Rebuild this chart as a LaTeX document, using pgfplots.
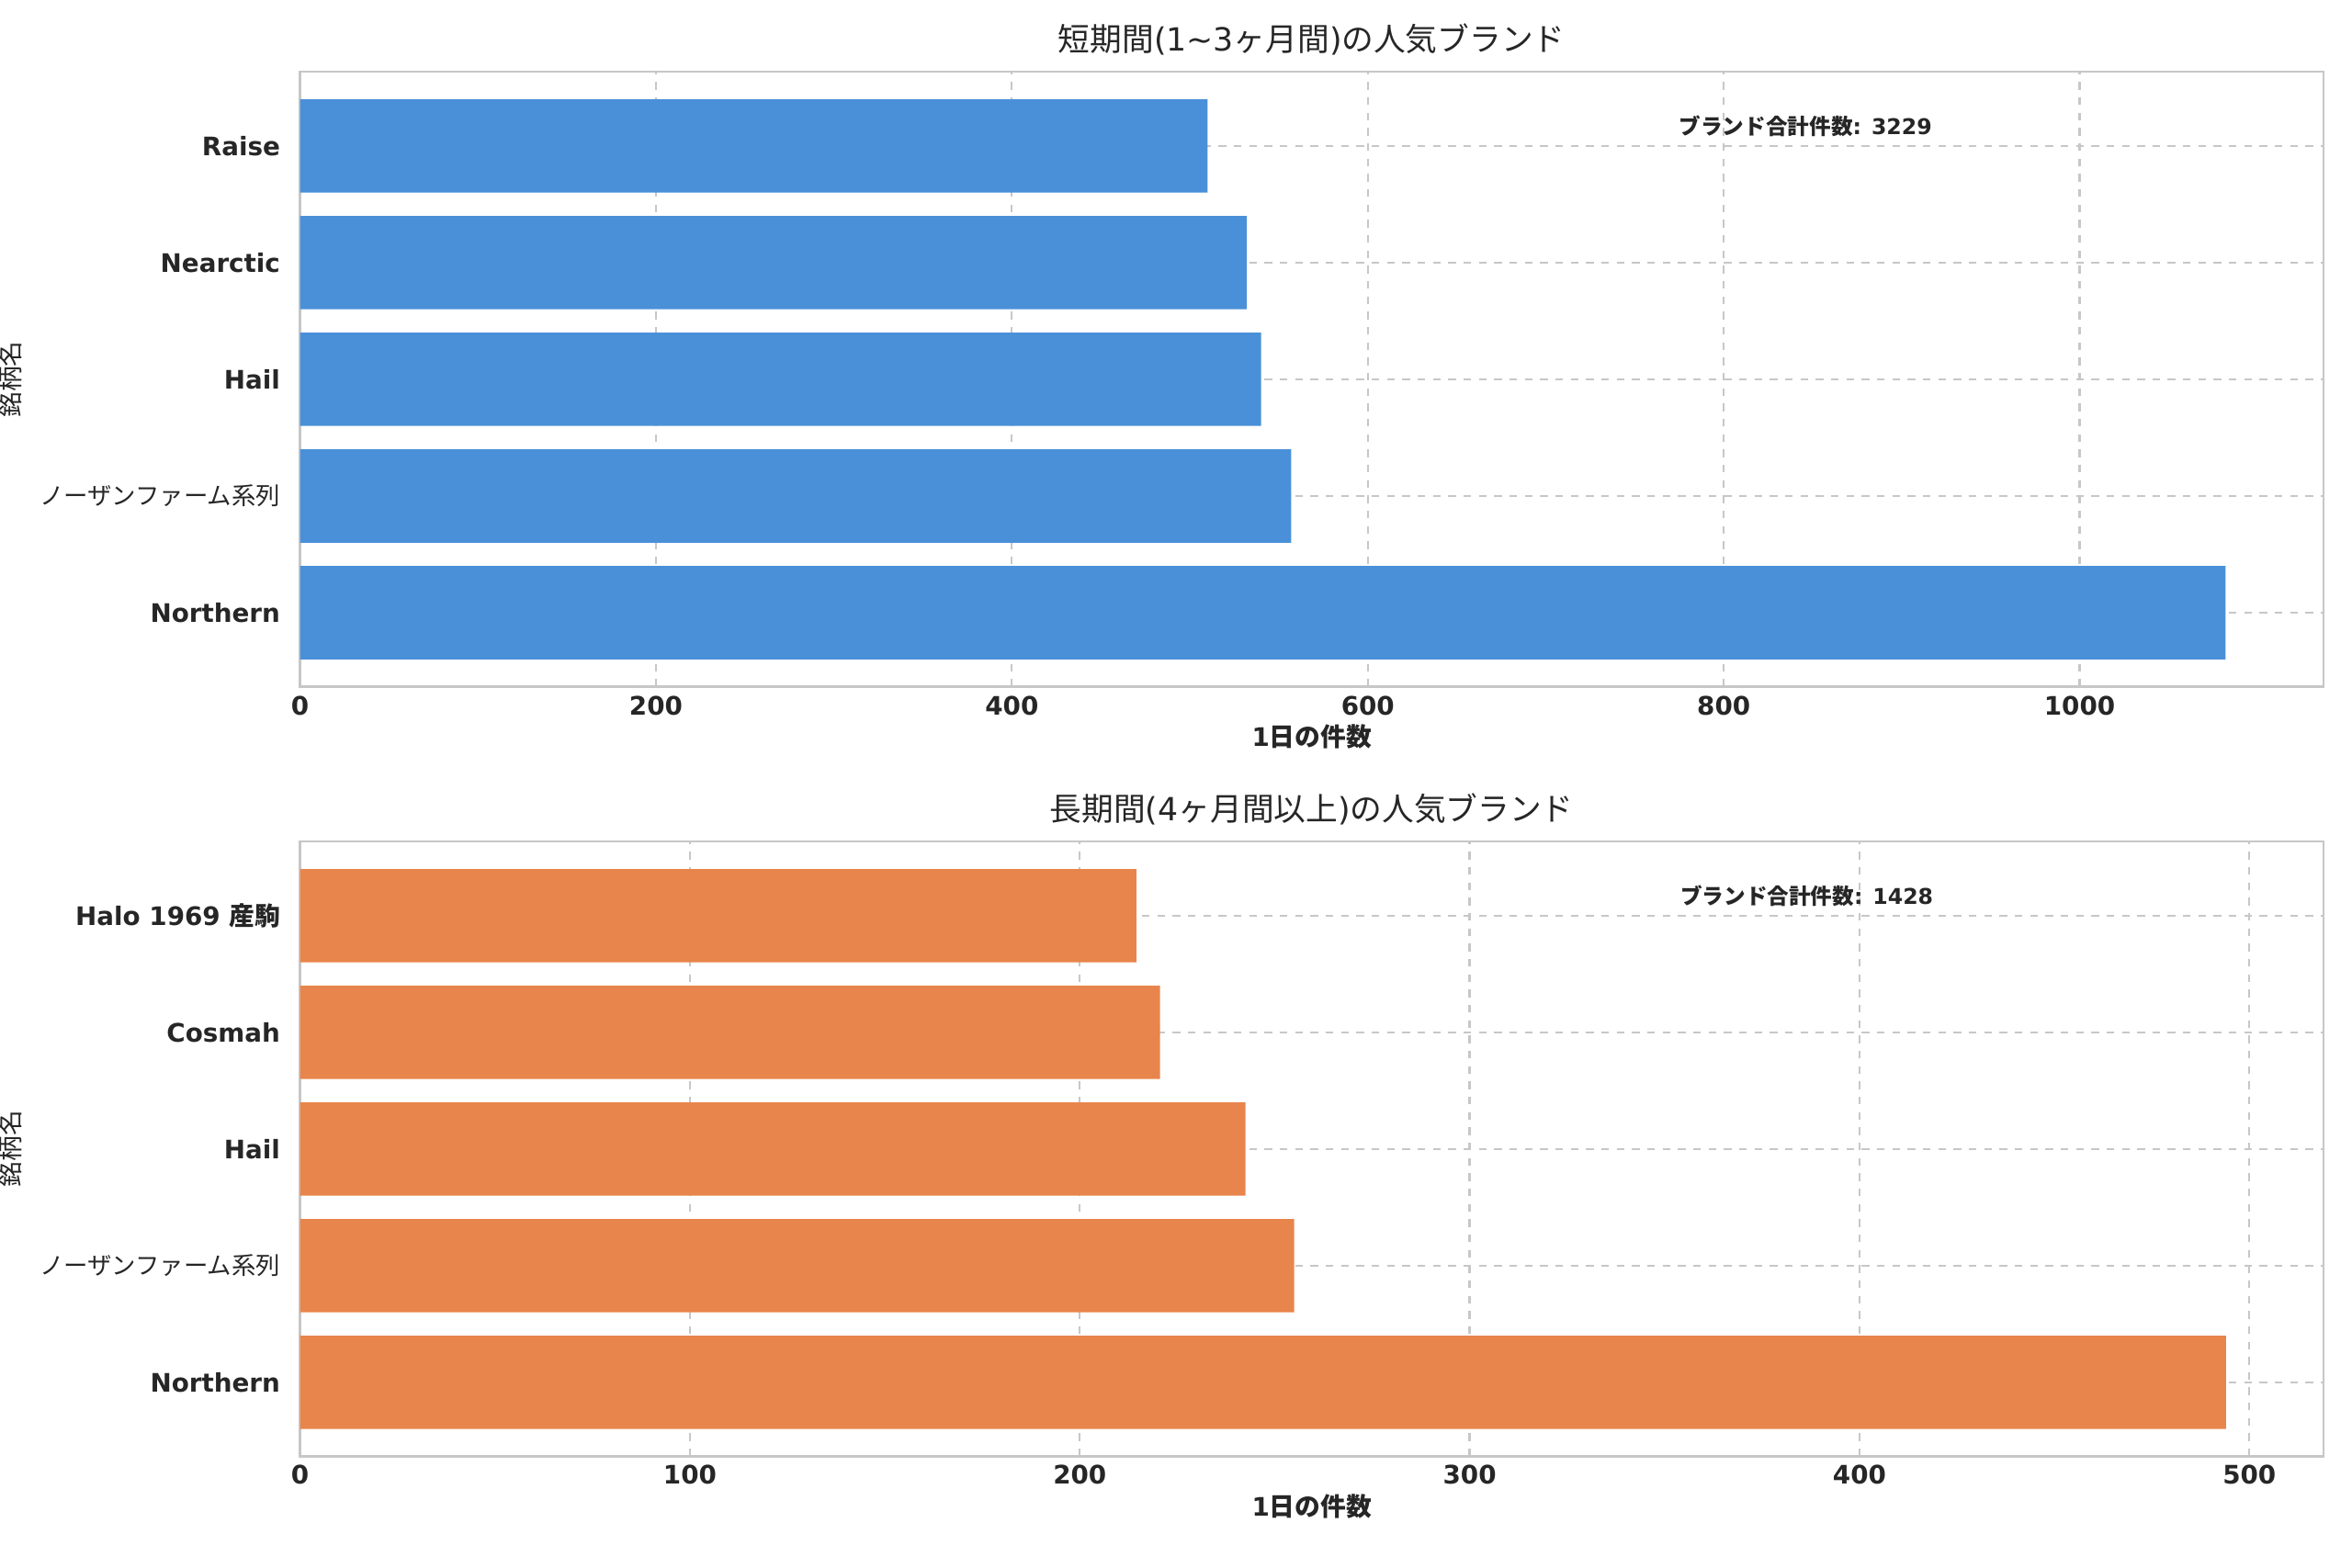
\documentclass[border=0pt]{standalone}
\usepackage{pgfplots}
\pgfplotsset{compat=1.18}
\usepackage{fontspec}
\setmainfont{DejaVu Sans}
\newfontfamily\cjk{Noto Sans CJK JP}
\definecolor{cblue}{HTML}{4A90D9}
\definecolor{corange}{HTML}{E8854C}
\definecolor{txt}{HTML}{262626}
\pgfplotsset{
 myax/.style={
  width=793pt, height=241pt, scale only axis,
  xbar, bar width=0.8, xmin=0,
  ymin=-0.635, ymax=4.635, ytick={0,1,2,3,4},
  axis line style={draw=black!22, line width=0.8pt},
  tick style={draw=none},
  grid=both, major grid style={dashed, black!22, line width=0.8pt},
  ticklabel style={font=\fontsize{10}{12}\selectfont\bfseries, text=txt},
  /pgf/number format/assume math mode=true,
  /pgf/number format/1000 sep={},
  xlabel style={font=\fontsize{10}{12}\selectfont\bfseries, text=txt, yshift=3pt},
  ylabel style={font=\fontsize{10}{12}\selectfont\cjk, text=txt},
  title style={font=\fontsize{12.5}{15}\selectfont, text=txt, yshift=-3pt},
  xlabel={1\cjk 日の件数},
  ylabel={銘柄名},
 }
}
\begin{document}
\begin{tikzpicture}
\begin{axis}[myax, xmax=1137, xtick={0,200,...,1000},
  title={{\cjk 短期間}(1\textasciitilde3{\cjk ヶ月間}){\cjk の人気ブランド}},
  yticklabels={Northern,{\mdseries\fontsize{9.5}{11}\selectfont\cjk ノーザンファーム系列},Hail,Nearctic,Raise}]
\addplot[fill=cblue, draw=none] coordinates {(1082,0) (557,1) (540,2) (532,3) (510,4)};
\node[font=\fontsize{8.5}{10}\selectfont\bfseries, text=txt] at (axis cs:846,4.17) {{\cjk ブランド合計件数}: 3229};
\end{axis}
\begin{axis}[myax, at={(0,-301.7pt)}, xmax=519, xtick={0,100,...,500},
  title={{\cjk 長期間}(4{\cjk ヶ月間以上}){\cjk の人気ブランド}},
  yticklabels={Northern,{\mdseries\fontsize{9.5}{11}\selectfont\cjk ノーザンファーム系列},Hail,Cosmah,{Halo 1969 {\cjk 産駒}}}]
\addplot[fill=corange, draw=none] coordinates {(494,0) (255,1) (242.5,2) (220.6,3) (214.5,4)};
\node[font=\fontsize{8.5}{10}\selectfont\bfseries, text=txt] at (axis cs:386.5,4.17) {{\cjk ブランド合計件数}: 1428};
\end{axis}
\pgfresetboundingbox
\useasboundingbox (-117.6pt,-345.2pt) rectangle (804.2pt,269.2pt);
\end{tikzpicture}
\end{document}
